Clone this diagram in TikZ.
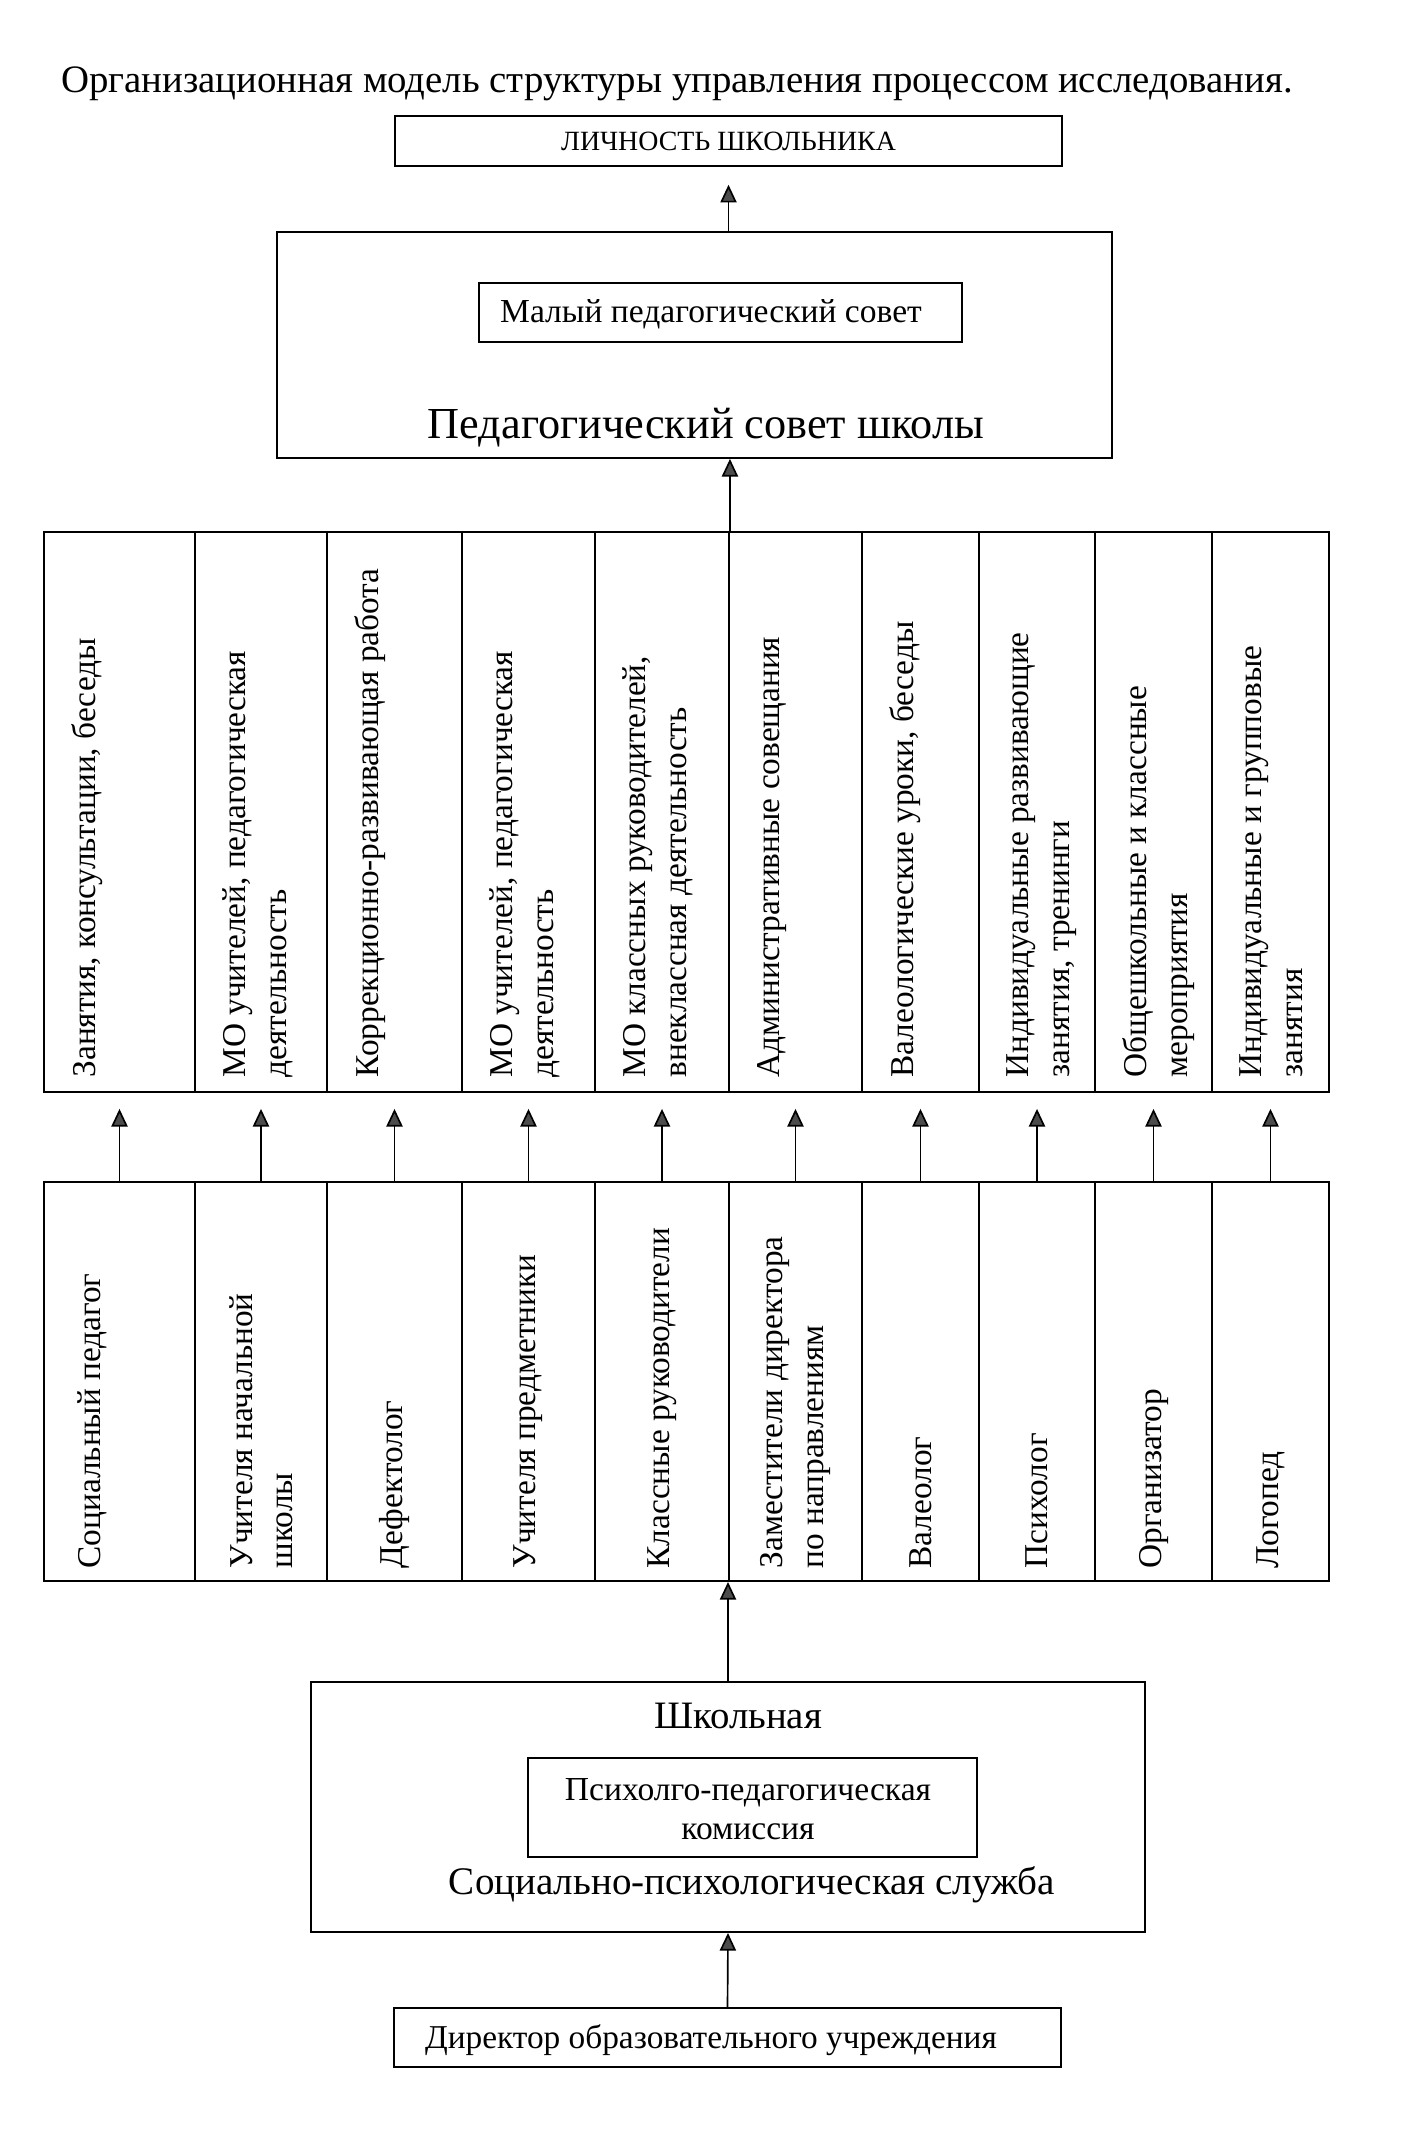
\documentclass[tikz,border=0pt]{standalone}
\usepackage{fontspec}
\setmainfont{Liberation Serif}
\usetikzlibrary{arrows.meta}

\begin{document}
\begin{tikzpicture}[x=0.42pt,y=-0.42pt,
	box/.style={draw,line width=0.8pt,inner sep=0pt},
	cell/.style={draw,line width=0.8pt,inner sep=0pt},
	arr/.style={line width=0.7pt,-{Triangle[length=7.4pt,width=6.8pt,fill=black!70]}},
	vtext/.style={rotate=90,align=left,inner sep=0pt,font=\fontsize{14}{17}\selectfont}]

	\useasboundingbox[fill=white] (0,0) rectangle (1423,2136);

	% title
	\node[font=\fontsize{16.3}{20}\selectfont] (title) at (677,84) {Организационная модель структуры управления процессом исследования.};

	% top box
	\node[box,minimum width=280.1pt,minimum height=21pt,font=\fontsize{11.7}{14}\selectfont] (lichn) at (728.5,141) {ЛИЧНОСТЬ ШКОЛЬНИКА};

	% pedagogical council
	\node[box,minimum width=350.7pt,minimum height=94.9pt] (pedsov) at (694.5,345) {};
	\node[box,minimum width=202.9pt,minimum height=24.8pt] (malsov) at (720.5,312.5) {};
	\node[font=\fontsize{14.1}{17}\selectfont] (maltxt) at (711,314) {Малый педагогический совет};
	\node[font=\fontsize{18.6}{22}\selectfont] (pedtxt) at (706,428) {Педагогический совет школы};

	%arrow
	\draw[arr,shorten >=7.5pt] (pedsov.north -| lichn.south) -- (lichn.south);

	% activities
	\foreach \l/\r/\t [count=\i] in {44/195/{Занятия, консультации, беседы},
			195/327/{МО учителей, педагогическая\\деятельность},
			327/462/{Коррекционно-развивающая работа},
			462/595/{МО учителей, педагогическая\\деятельность},
			595/729/{МО классных руководителей,\\внеклассная деятельность},
			729/862/{Административные совещания},
			862/979/{Валеологические уроки, беседы},
			979/1095/{Индивидуальные развивающие\\занятия, тренинги},
			1095/1212/{Общешкольные и классные\\мероприятия},
			1212/1329/{Индивидуальные и групповые\\занятия}}
	{
		\node[cell,minimum width={(\r-\l)*0.42pt},minimum height=235.2pt] (act\i) at ({(\l+\r)/2},812) {};
		\node[vtext,anchor=north west] (acttxt\i) at ([xshift=12pt,yshift=6.3pt]act\i.south west) {\t};
	}

	%arrow
	\draw[arr] (act5.north east) -- (act5.north east |- pedsov.south);

	% staff
	\foreach \l/\r/\s/\t [count=\i] in {44/195/-11.5/{Социальный педагог},
			195/327/0/{Учителя начальной\\школы},
			327/462/0/{Дефектолог},
			462/595/0/{Учителя предметники},
			595/729/0/{Классные руководители},
			729/862/0/{Заместители директора\\по направлениям},
			862/979/0/{Валеолог},
			979/1095/0/{Психолог},
			1095/1212/0/{Организатор},
			1212/1329/0/{Логопед}}
	{
		\node[cell,minimum width={(\r-\l)*0.42pt},minimum height=167.6pt] (role\i) at ({(\l+\r)/2},1381.5) {};
		\node[vtext,anchor=west] (roletxt\i) at ([xshift=\s pt,yshift=5.5pt]role\i.south) {\t};
	}

	%arrows
	\foreach \i in {1,...,10}
		\draw[arr,shorten >=6.7pt] (role\i.north) -- (act\i.south);

	% school service
	\node[box,minimum width=350.3pt,minimum height=105pt] (service) at (728,1807) {};
	\node[font=\fontsize{16.3}{20}\selectfont] (shktxt) at (738,1716) {Школьная};
	\node[box,minimum width=188.6pt,minimum height=41.6pt] (ppk) at (752.5,1807.5) {};
	\node[align=center,font=\fontsize{14.1}{16.5}\selectfont] (ppktxt) at (748,1809) {Психолго-педагогическая\\комиссия};
	\node[font=\fontsize{16.4}{20}\selectfont] (sptxt) at (752,1885) {Социально-психологическая служба};

	%arrow
	\draw[arr] (service.north) -- (service.north |- role5.south);

	% director
	\node[box,minimum width=280.1pt,minimum height=24.8pt] (dir) at (727.5,2037.5) {};
	\node[font=\fontsize{14}{17}\selectfont] (dirtxt) at (711,2040) {Директор образовательного учреждения};

	%arrow
	\draw[arr] (dir.north) -- (service.south);

\end{tikzpicture}
\end{document}
